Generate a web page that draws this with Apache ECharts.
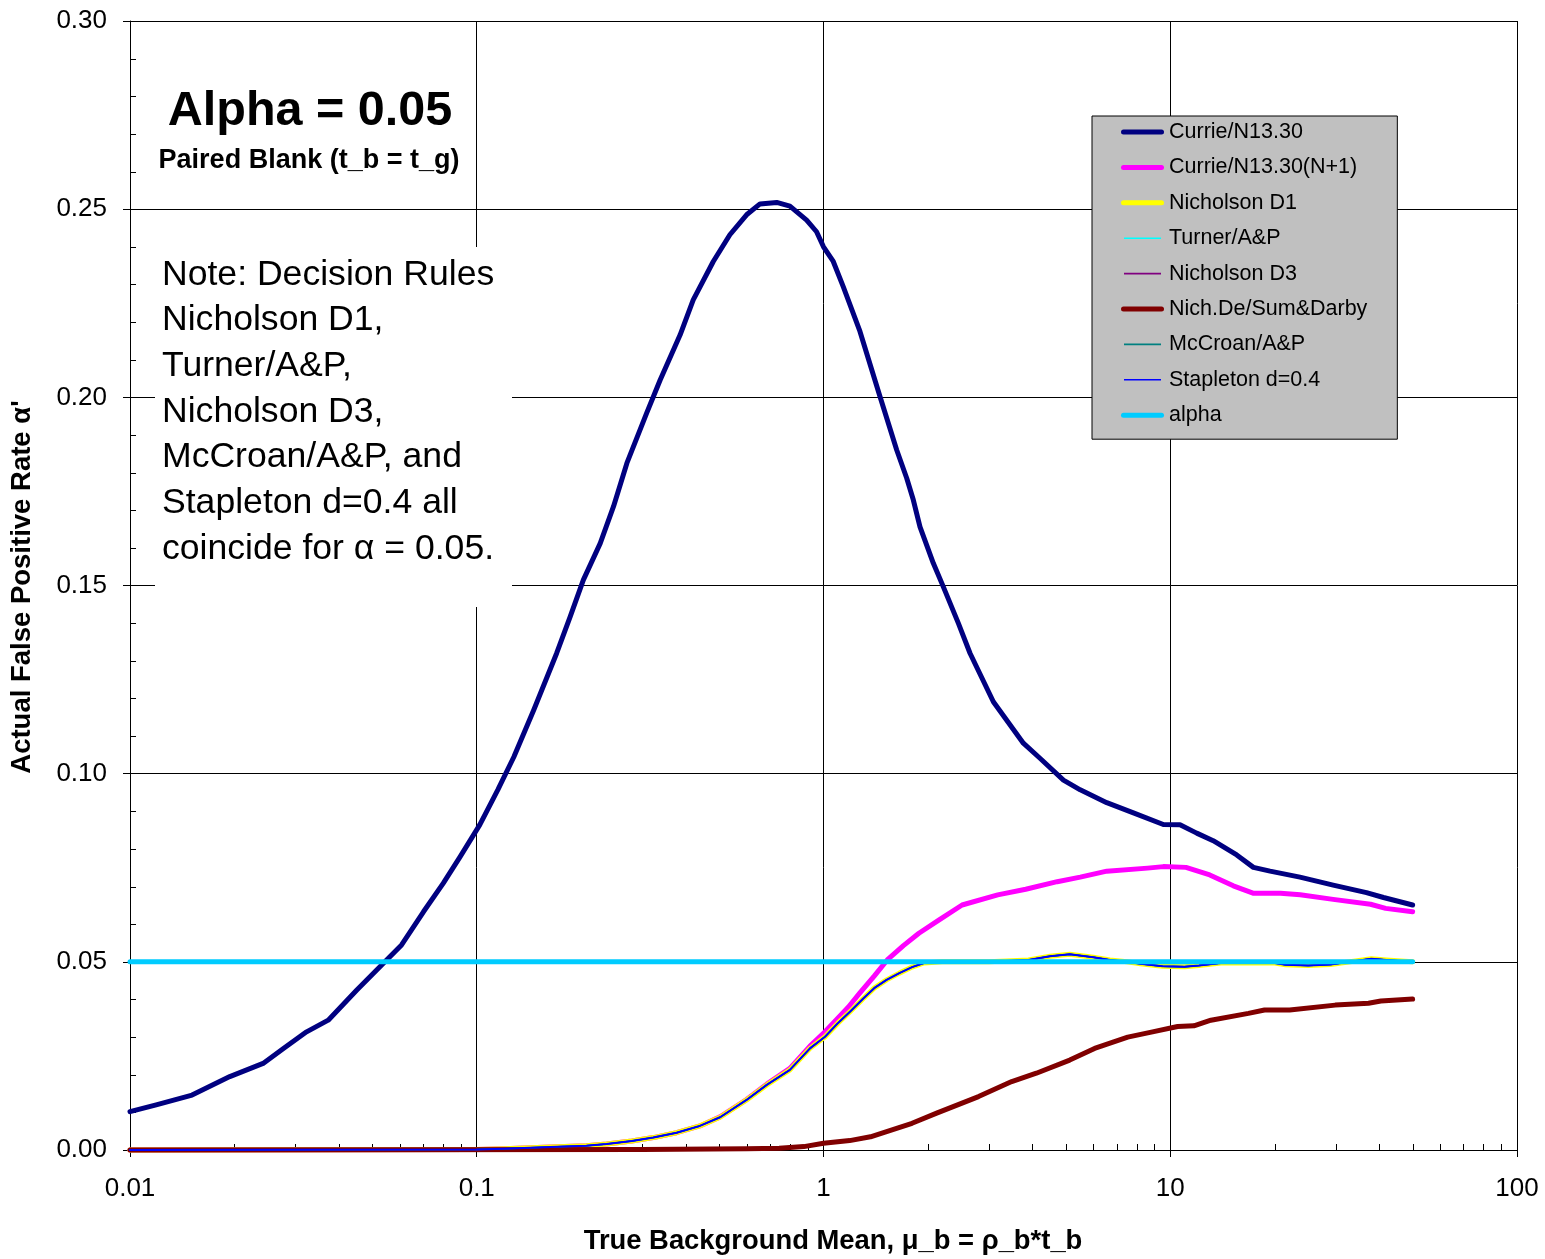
<!DOCTYPE html>
<html><head><meta charset="utf-8">
<script src="https://cdn.jsdelivr.net/npm/echarts@6/dist/echarts.min.js"></script>
<style>html,body{margin:0;padding:0;background:#fff}#c{width:1545px;height:1259px}</style>
</head><body><div id="c"></div>
<script>
const FONT = '"Liberation Sans", Arial, sans-serif';

const seriesNames = ['Currie/N13.30','Currie/N13.30(N+1)','Nicholson D1','Turner/A&P','Nicholson D3','Nich.De/Sum&Darby','McCroan/A&P','Stapleton d=0.4','alpha'];

const xTickLabels = ['0.01','0.1','1','10','100'];
const xMinorTicks = [0.02,0.03,0.04,0.05,0.06,0.07,0.08,0.09,0.2,0.3,0.4,0.5,0.6,0.7,0.8,0.9,2,3,4,5,6,7,8,9,20,30,40,50,60,70,80,90];
const yMinorTicks = [0.01,0.02,0.03,0.04,0.06,0.07,0.08,0.09,0.11,0.12,0.13,0.14,0.16,0.17,0.18,0.19,0.21,0.22,0.23,0.24,0.26,0.27,0.28,0.29];

// Currie/N13.30
const currieX = [0.01,0.0119,0.0151,0.0194,0.0242,0.0277,0.0323,0.0373,0.0451,0.0538,0.0607,0.0702,0.0801,0.0895,0.102,0.115,0.128,0.146,0.170,0.186,0.203,0.227,0.248,0.271,0.309,0.338,0.386,0.421,0.481,0.537,0.600,0.656,0.733,0.800,0.894,0.955,1.0,1.067,1.14,1.274,1.455,1.626,1.738,1.816,1.898,2.074,2.215,2.448,2.646,3.089,3.77,4.21,4.92,5.5,6.56,7.83,9.55,10.67,11.92,13.3,15.55,17.37,19.4,23.66,29.5,36.8,41.2,50];
const currieY = [0.0102,0.0120,0.0146,0.0195,0.0230,0.0270,0.0314,0.0345,0.0425,0.0496,0.0545,0.0633,0.0709,0.0779,0.0864,0.0957,0.1045,0.1169,0.1320,0.1417,0.1515,0.1612,0.1710,0.1825,0.1958,0.2046,0.2166,0.2259,0.2361,0.2432,0.2485,0.2514,0.2518,0.2508,0.2471,0.2440,0.2400,0.2361,0.2294,0.2175,0.2002,0.1860,0.1785,0.1727,0.1656,0.1559,0.1497,0.1400,0.1320,0.1191,0.1081,0.1041,0.0983,0.0957,0.0923,0.0896,0.0865,0.0864,0.0842,0.0822,0.0784,0.0751,0.0741,0.0725,0.0704,0.0684,0.0671,0.0651];

// Currie/N13.30(N+1)
const currieN1X = [0.01,0.1,0.12,0.163,0.207,0.237,0.28,0.323,0.377,0.44,0.503,0.60,0.686,0.80,0.914,1.01,1.086,1.18,1.27,1.40,1.527,1.70,1.884,2.15,2.51,3.18,3.83,4.72,5.5,6.56,8.6,9.55,11.1,13.0,15.2,17.4,20.8,23.7,29.5,37.8,41.8,50];
const currieN1Y = [0,0.0001,0.0003,0.0008,0.0011,0.0016,0.0024,0.0033,0.0046,0.0064,0.0088,0.0134,0.0175,0.0217,0.0276,0.0314,0.0345,0.0380,0.0416,0.0462,0.0505,0.0543,0.0576,0.0611,0.0651,0.0678,0.0693,0.0713,0.0725,0.0741,0.0749,0.0753,0.0751,0.0731,0.0702,0.0682,0.0682,0.0678,0.0666,0.0653,0.0642,0.0633];

// Nicholson D1, Turner/A&P, Nicholson D3, McCroan/A&P, Stapleton d=0.4 (coincide)
const coincideX = [0.01,0.1,0.12,0.163,0.207,0.237,0.28,0.323,0.377,0.44,0.503,0.60,0.686,0.80,0.914,1.01,1.10,1.20,1.30,1.40,1.52,1.655,1.80,1.95,2.2,3.0,3.9,4.5,5.13,6.0,6.7,7.5,8.2,9.5,11,12.1,14,20,21.5,25,29,33,38,42,50];
const coincideY = [0,0.0001,0.0003,0.0008,0.0011,0.0016,0.0024,0.0033,0.0046,0.0064,0.0087,0.0133,0.0173,0.0213,0.0270,0.0301,0.0337,0.0370,0.0402,0.0430,0.0452,0.0470,0.0486,0.0497,0.0500,0.0500,0.0505,0.0515,0.0520,0.0512,0.0505,0.0500,0.0495,0.0488,0.0487,0.0490,0.0497,0.0497,0.0492,0.0490,0.0493,0.0500,0.0508,0.0505,0.0500];

// Nich.De/Sum&Darby
const darbyX = [0.01,0.3,0.6,0.745,0.878,1.0,1.19,1.366,1.80,2.12,2.80,3.49,4.11,5.13,6.05,7.54,8.89,10.5,11.7,13.1,16.8,18.7,22.1,29.9,37.3,40.5,50];
const darbyY = [0,0.0001,0.0003,0.00045,0.0009,0.0018,0.0025,0.0035,0.0071,0.0098,0.0142,0.0182,0.0204,0.0239,0.0270,0.0300,0.0314,0.0328,0.0330,0.0345,0.0363,0.0372,0.0372,0.0385,0.0390,0.0396,0.0401];

// alpha
const alphaX = [0.01,50];
const alphaY = [0.05,0.05];

function pairs(xs, ys){ return xs.map((x,i)=>[x, ys[i]]); }

function lineSeries(name, xs, ys, color, width){
  return {type:'line', name, data:pairs(xs,ys), showSymbol:false, symbol:'none', clip:false,
    lineStyle:{color, width, cap:'round', join:'round'}, itemStyle:{color}, emphasis:{disabled:true}};
}

const thickIcon = 'path://M2.5,0H40.5A2.5,2.5 0 0 1 40.5,5H2.5A2.5,2.5 0 0 1 2.5,0Z';
const thinIcon = 'path://M0,0M3,0H40V1.6H3ZM43,1.6';
const legendIcons = [thickIcon, thickIcon, thickIcon, thinIcon, thinIcon, thickIcon, thinIcon, thinIcon, thickIcon];

const chart = echarts.init(document.getElementById('c'), null, {renderer:'canvas'});
const tickStyle = {color:'#000', width:1};
const option = {
  animation:false,
  backgroundColor:'#fff',
  grid:{left:130, top:21, right:28, bottom:109, containLabel:false, outerBoundsMode:'none'},
  xAxis:{type:'log', logBase:10, min:0.01, max:100,
    axisLine:{show:true, onZero:false, lineStyle:tickStyle},
    axisTick:{show:true, length:7, lineStyle:tickStyle},
    minorTick:{show:false},
    splitLine:{show:true, lineStyle:{color:'#000', width:1}},
    axisLabel:{margin:26, fontSize:26, color:'#000', fontFamily:FONT,
      formatter:v=>xTickLabels[Math.round(Math.log10(v))+2]}},
  yAxis:{type:'value', min:0, max:0.3, interval:0.05,
    axisLine:{show:true, lineStyle:tickStyle},
    axisTick:{show:true, length:7, lineStyle:tickStyle},
    minorTick:{show:false},
    splitLine:{show:true, lineStyle:{color:'#000', width:1}},
    axisLabel:{margin:23, fontSize:26, color:'#000', fontFamily:FONT, formatter:v=>v.toFixed(2)}},
  legend:{orient:'vertical', left:1092, top:116,
    data:seriesNames.map((n,i)=>({name:n, icon:legendIcons[i]})),
    backgroundColor:'#c0c0c0', borderColor:'#000', borderWidth:1,
    padding:[5,30,13,29], itemWidth:43, itemHeight:22, itemGap:13.4,
    selectedMode:false, symbolKeepAspect:true,
    textStyle:{fontSize:21.5, color:'#000', fontFamily:FONT, lineHeight:22}},
  graphic:[
    {type:'rect', z:50, shape:{x:155, y:247, width:357, height:360}, style:{fill:'#fff'}},
    {type:'text', z:60, x:310, y:112, style:{text:'Alpha = 0.05', font:'bold 48.5px '+FONT, fill:'#000', align:'center', verticalAlign:'middle', textAlign:'center', textVerticalAlign:'middle'}},
    {type:'text', z:60, x:309, y:161, style:{text:'Paired Blank (t_b = t_g)', font:'bold 27px '+FONT, fill:'#000', align:'center', verticalAlign:'middle', textAlign:'center', textVerticalAlign:'middle'}},
    {type:'text', z:60, x:162, y:252, style:{text:'Note: Decision Rules\nNicholson D1,\nTurner/A&P,\nNicholson D3,\nMcCroan/A&P, and\nStapleton d=0.4 all\ncoincide for \u03b1 = 0.05.', font:'35.6px '+FONT, lineHeight:45.7, fill:'#000', align:'left', verticalAlign:'top', textAlign:'left', textVerticalAlign:'top'}},
    {type:'text', z:60, x:22, y:587, rotation:Math.PI/2, style:{text:"Actual False Positive Rate \u03b1'", font:'bold 27.5px '+FONT, fill:'#000', align:'center', verticalAlign:'middle', textAlign:'center', textVerticalAlign:'middle'}},
    {type:'text', z:60, x:833, y:1241, style:{text:'True Background Mean, \u03bc_b = \u03c1_b*t_b', font:'bold 27.4px '+FONT, fill:'#000', align:'center', verticalAlign:'middle', textAlign:'center', textVerticalAlign:'middle'}}
  ],
  series:[
    {type:'custom', name:'xMinor', silent:true, z:1, clip:false, data:xMinorTicks.map(v=>[v,0]),
      renderItem:(params, api)=>{ const p = api.coord([api.value(0), api.value(1)]); const x = Math.round(p[0])+0.5;
        return {type:'line', shape:{x1:x, y1:p[1], x2:x, y2:p[1]-6}, style:{stroke:'#000', lineWidth:1}}; }},
    {type:'custom', name:'yMinor', silent:true, z:1, clip:false, data:yMinorTicks.map(v=>[0.01,v]),
      renderItem:(params, api)=>{ const p = api.coord([api.value(0), api.value(1)]); const y = Math.round(p[1])+0.5;
        return {type:'line', shape:{x1:p[0], y1:y, x2:p[0]+6, y2:y}, style:{stroke:'#000', lineWidth:1}}; }},
    lineSeries(seriesNames[0], currieX, currieY, '#000080', 5),
    lineSeries(seriesNames[1], currieN1X, currieN1Y, '#ff00ff', 5),
    lineSeries(seriesNames[2], coincideX, coincideY, '#ffff00', 5),
    lineSeries(seriesNames[3], coincideX, coincideY, '#00ffff', 1.5),
    lineSeries(seriesNames[4], coincideX, coincideY, '#800080', 1.5),
    lineSeries(seriesNames[5], darbyX, darbyY, '#800000', 5),
    lineSeries(seriesNames[6], coincideX, coincideY, '#008080', 1.5),
    lineSeries(seriesNames[7], coincideX, coincideY, '#0000ff', 2),
    lineSeries(seriesNames[8], alphaX, alphaY, '#00ccff', 5)
  ]
};
chart.setOption(option);
</script></body></html>
